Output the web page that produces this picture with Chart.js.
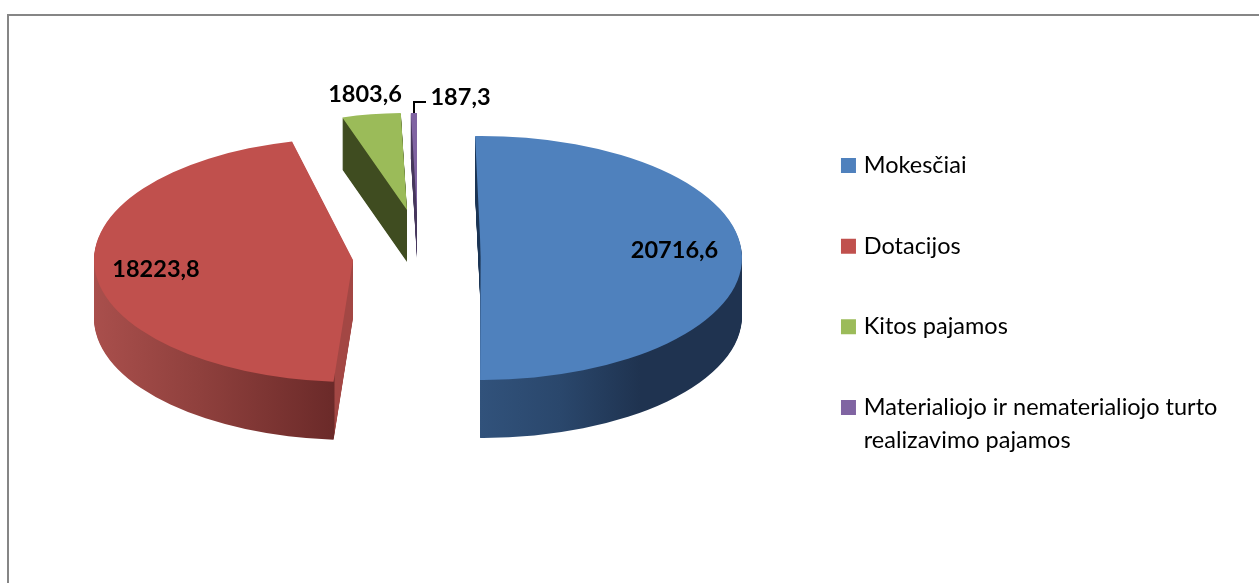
<!DOCTYPE html>
<html>
<head>
<meta charset="utf-8">
<title>Pajamos</title>
<style>
body { margin: 0; background: #fff; }
canvas { display: block; }
</style>
<script src="https://cdn.jsdelivr.net/npm/chart.js@4"></script>
</head>
<body>
<canvas id="myChart" width="1259" height="583"></canvas>
<script>
var categories = ['Mokesčiai', 'Dotacijos', 'Kitos pajamos', ['Materialiojo ir nematerialiojo turto', 'realizavimo pajamos']];
var values = [20716.6, 18223.8, 1803.6, 187.3];
var topColors = ['#4f81bd', '#c0504d', '#9bbb59', '#8064a2'];

// each slice has its own centre / ellipse, Excel's 3D view is not a plain squash
var views = [
    { cx: 481, cy: 258, rx: 261, ry: 122, depth: 58, turnStart: 0, turnEnd: -0.7,
      side: [[470, '#1a3454'], [479.5, '#1a3454'], [480, '#31527b'], [560, '#2a476c'], [640, '#1f3350'], [742, '#1f3350']] },
    { cx: 353, cy: 260, rx: 259, ry: 122, depth: 58, turnStart: 3.4, turnEnd: 5.2,
      side: [[94, '#a94f4c'], [200, '#8f403d'], [334, '#6b2a29'], [335, '#a34744'], [360, '#a34744']] },
    { cx: 407, cy: 210, rx: 215, ry: 97, depth: 52, turnStart: 1.3, turnEnd: 1.3,
      side: [[340, '#3f4c20'], [410, '#3f4c20']] },
    { cx: 417, cy: 213, rx: 215, ry: 100, depth: 45, turnStart: 1.3, turnEnd: 1.3,
      side: [[405, '#46375c'], [420, '#46375c']] }
];
var labelSpots = [[674.5, 250], [156, 269], [365, 94], [460.5, 97]];

var pie3d = {
    id: 'pie3d',
    afterLayout: function (chart) {
        chart.legend.left = 787.8;
        chart.legend.top = 96.6;
    },
    beforeDraw: function (chart) {
        var c = chart.ctx;
        c.save();
        c.strokeStyle = '#868686';
        c.lineWidth = 2;
        c.beginPath();
        c.moveTo(8, 583);
        c.lineTo(8, 15);
        c.lineTo(1259, 15);
        c.stroke();
        c.restore();
    },
    beforeDatasetsDraw: function (chart) {
        var c = chart.ctx;
        var arcs = chart.getDatasetMeta(0).data;
        arcs.forEach(function (arc, i) {
            var v = views[i];
            var sx = v.rx / arc.outerRadius, sy = v.ry / arc.outerRadius;
            var place = function (dy) {
                c.setTransform(1, 0, 0, 1, 0, 0);
                c.translate(v.cx, v.cy + dy);
                c.scale(sx, sy);
                c.translate(-arc.x, -arc.y);
            };
            var toUser = function (x) { return (x - v.cx) / sx + arc.x; };
            var first = v.side[0][0], last = v.side[v.side.length - 1][0];
            var grad = c.createLinearGradient(toUser(first), 0, toUser(last), 0);
            v.side.forEach(function (s) { grad.addColorStop((s[0] - first) / (last - first), s[1]); });

            var shaped = Object.create(arc);
            shaped.startAngle = arc.startAngle + v.turnStart * Math.PI / 180;
            shaped.endAngle = arc.endAngle + v.turnEnd * Math.PI / 180;
            shaped.circumference = shaped.endAngle - shaped.startAngle;
            shaped.options = Object.assign({}, arc.options, { backgroundColor: grad, borderWidth: 0 });
            c.save();
            for (var d = v.depth; d >= 1; d--) {
                place(d);
                shaped.draw(c);
            }
            shaped.options = Object.assign({}, arc.options, { borderWidth: 0 });
            place(0);
            shaped.draw(c);
            c.restore();
        });
        return false;
    },
    afterDraw: function (chart) {
        var c = chart.ctx;
        c.save();
        c.setTransform(1, 0, 0, 1, 0, 0);
        c.strokeStyle = '#000';
        c.lineWidth = 2;
        c.beginPath();
        c.moveTo(414, 113);
        c.lineTo(414, 102);
        c.lineTo(426, 102);
        c.stroke();
        c.fillStyle = '#000';
        c.font = 'bold 23.5px Lato';
        c.textAlign = 'center';
        c.textBaseline = 'middle';
        values.forEach(function (val, i) {
            c.fillText(String(val).replace('.', ','), labelSpots[i][0], labelSpots[i][1]);
        });
        c.restore();
    }
};

var ctx = document.getElementById('myChart').getContext('2d');
var myChart = new Chart(ctx, {
    type: 'pie',
    data: {
        labels: categories,
        datasets: [{
            label: 'Pajamos',
            data: values,
            backgroundColor: topColors,
            borderWidth: 0
        }]
    },
    plugins: [pie3d],
    options: {
        responsive: false,
        animation: false,
        rotation: -1.3,
        plugins: {
            tooltip: { enabled: false },
            legend: {
                position: 'right',
                align: 'start',
                labels: {
                    boxWidth: 7,
                    boxHeight: 7,
                    padding: 57.17,
                    color: '#000',
                    font: { family: 'Lato', size: 23.5, lineHeight: 1.404 },
                    // the fat border brings the swatch to 15px without widening the gap to the text
                    generateLabels: function (chart) {
                        var items = Chart.overrides.pie.plugins.legend.labels.generateLabels(chart);
                        items.forEach(function (item) {
                            item.lineWidth = 8;
                            item.strokeStyle = item.fillStyle;
                        });
                        return items;
                    }
                }
            }
        }
    }
});
</script>
</body>
</html>
